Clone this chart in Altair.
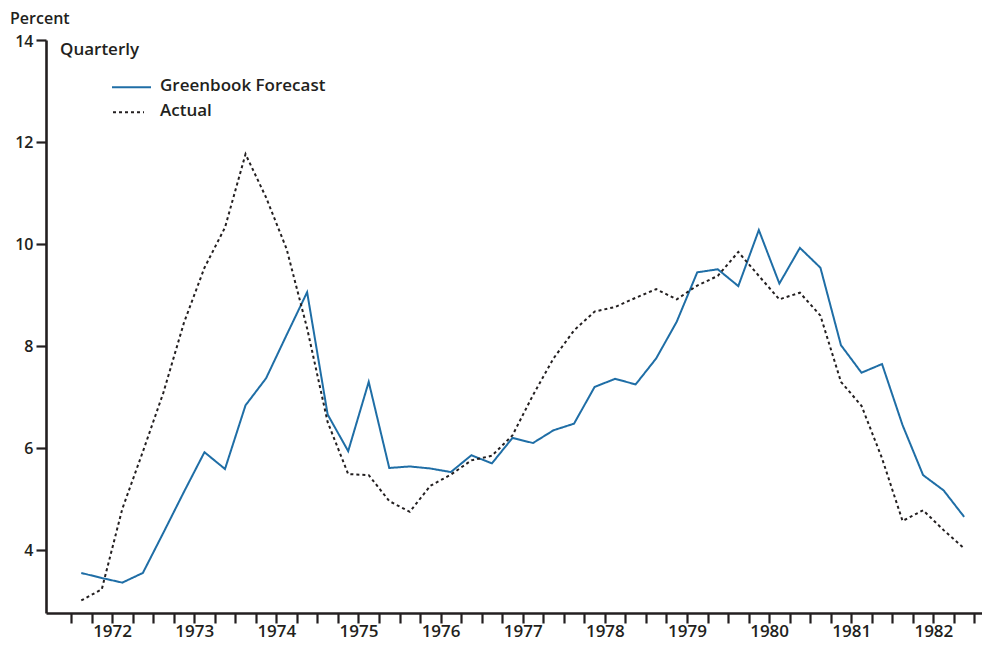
import altair as alt
import pandas as pd

# Quarterly data, 1972Q1 - 1982Q4
years = list(range(1972, 1983))
forecast = [3.54, 3.44, 3.35, 3.54, 4.33, 5.13, 5.91, 5.58, 6.83, 7.36, 8.21, 9.05,
            6.65, 5.93, 7.29, 5.60, 5.63, 5.59, 5.52, 5.85, 5.69, 6.19, 6.09, 6.34,
            6.47, 7.19, 7.35, 7.24, 7.75, 8.47, 9.44, 9.50, 9.17, 10.27, 9.22, 9.92,
            9.53, 8.01, 7.47, 7.64, 6.44, 5.46, 5.16, 4.64]
actual = [3.00, 3.22, 4.80, 5.92, 7.08, 8.45, 9.53, 10.32, 11.76, 10.91, 9.90, 8.34,
          6.50, 5.48, 5.46, 4.95, 4.74, 5.25, 5.47, 5.75, 5.84, 6.24, 7.03, 7.75,
          8.30, 8.67, 8.76, 8.94, 9.11, 8.91, 9.18, 9.37, 9.84, 9.37, 8.91, 9.04,
          8.59, 7.29, 6.82, 5.79, 4.56, 4.77, 4.38, 4.02]
series_names = ["Greenbook Forecast", "Actual"]
y_ticks = [4, 6, 8, 10, 12, 14]

# mid-quarter positions
t = [y + (q + 0.5) / 4 for y in years for q in range(4)]
rows = []
for i, tv in enumerate(t):
    rows.append({"t": tv, "v": forecast[i], "s": series_names[0]})
    rows.append({"t": tv, "v": actual[i], "s": series_names[1]})
df = pd.DataFrame(rows)

quarter_ticks = [1972 + i * 0.25 for i in range(45)]

FONT = "Open Sans"
INK = "#231f20"
BLUE = "#1f6ea6"

PX_YR = 82.13
PX_UNIT = 50.95
TOP = 32          # plot top at page y = 40
W, H = 936, 573   # plot bottom at page y = 613
BOTTOM = 32
x_min = 1972 - 25 / PX_YR
x_scale = alt.Scale(domain=[x_min, x_min + W / PX_YR], nice=False, zero=False)
y_scale = alt.Scale(domain=[14 - H / PX_UNIT, 14], nice=False, zero=False)

lines = alt.Chart(df).mark_line(strokeWidth=2).encode(
    x=alt.X("t:Q", scale=x_scale,
            axis=alt.Axis(values=quarter_ticks, title=None, grid=False,
                          labelExpr="datum.value % 1 == 0.5 ? floor(datum.value) : ''",
                          tickSize=10, tickWidth=2.2, tickColor=INK,
                          domainWidth=2.6, domainColor=INK, labelPadding=0,
                          labelFont=FONT, labelFontSize=17, labelFontWeight=600,
                          labelColor=INK, labelFlush=False, labelOverlap=False)),
    y=alt.Y("v:Q", scale=y_scale,
            axis=alt.Axis(values=y_ticks, title=None, grid=False,
                          tickSize=10, tickWidth=2.2, tickColor=INK,
                          domainWidth=2.6, domainColor=INK, labelPadding=3,
                          labelOffset=1,
                          labelFont=FONT, labelFontSize=16, labelFontWeight=600,
                          labelColor=INK)),
    color=alt.Color("s:N", scale=alt.Scale(domain=series_names, range=[BLUE, INK]), legend=None),
    strokeDash=alt.StrokeDash("s:N", scale=alt.Scale(domain=series_names, range=[[1, 0], [3, 3]]), legend=None),
    detail="s:N",
)

# Custom legend and labels (positions relative to plot area, whose top-left is at page (46, 40))
one = pd.DataFrame({"k": [0]})
leg_blue = alt.Chart(one).mark_rule(color=BLUE, strokeWidth=2).encode(
    x=alt.value(66), x2=alt.value(105), y=alt.value(47.3))
leg_act = alt.Chart(one).mark_rule(color=INK, strokeWidth=2, strokeDash=[3, 3]).encode(
    x=alt.value(67), x2=alt.value(98), y=alt.value(72.3))

def label(txt, x, y, size=17, weight=600):
    return alt.Chart(pd.DataFrame({"txt": [txt]})).mark_text(
        align="left", baseline="middle", font=FONT, fontSize=size,
        fontWeight=weight, color=INK).encode(
        text="txt:N", x=alt.value(x), y=alt.value(y))

texts = [
    label("Percent", -36, -21, size=16),
    label("Quarterly", 14, 10),
    label(series_names[0], 114, 46),
    label(series_names[1], 114, 71),
]

chart = alt.layer(lines, leg_blue, leg_act, *texts).properties(
    width=W, height=H,
    autosize=alt.AutoSizeParams(type="none"),
    padding={"left": 38, "top": TOP, "right": 0, "bottom": BOTTOM},
).configure_view(stroke=None)

chart.save("out.html", embed_options={"renderer": "svg", "actions": False})
